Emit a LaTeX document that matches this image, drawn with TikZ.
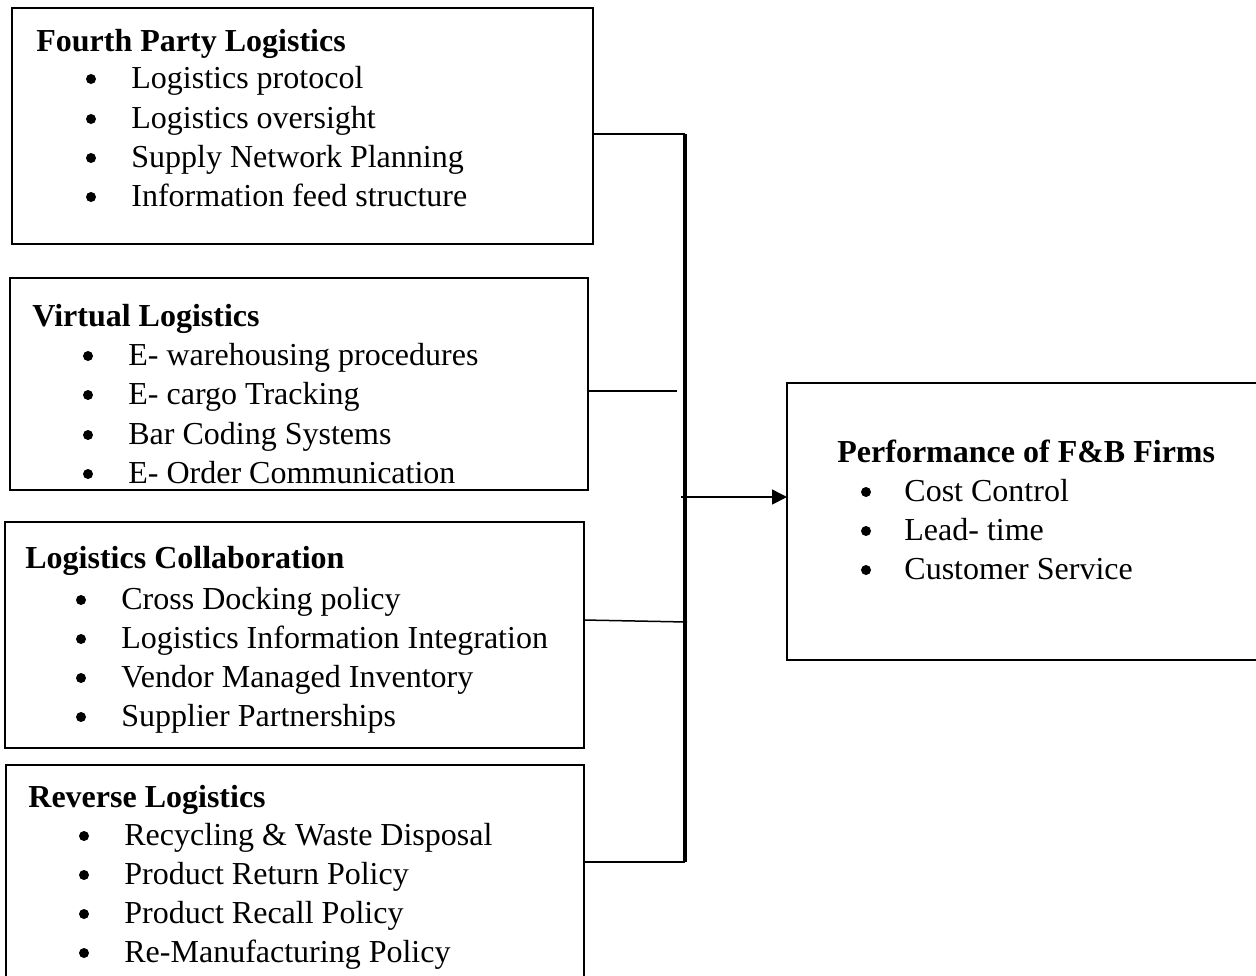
\documentclass[tikz,border=0pt]{standalone}
\usepackage{fontspec}
\setmainfont{Liberation Serif}
\usetikzlibrary{arrows.meta}
\begin{document}
\begin{tikzpicture}[x=0.5pt,y=-0.5pt,
  box/.style={draw, line width=1.3pt, anchor=north west, inner sep=0pt, outer sep=0pt},
  ttl/.style={anchor=base west, inner sep=0pt, font=\fontsize{16}{19}\selectfont\bfseries},
  itm/.style={anchor=base west, inner sep=0pt, font=\fontsize{16}{19}\selectfont},
  dot/.style={circle, fill, draw=none, inner sep=0pt, minimum size=5pt},
  link/.style={line width=0.75pt},
  spine/.style={line width=1.75pt},
]
\useasboundingbox (0,0) rectangle (1256,975);

% boxes
\node[box, minimum width=290.5pt, minimum height=118pt] (b1) at (12,8) {};
\node[box, minimum width=289pt, minimum height=106pt] (b2) at (10,278) {};
\node[box, minimum width=289.5pt, minimum height=113pt] (b3) at (5,522) {};
\node[box, minimum width=289pt, minimum height=120pt] (b4) at (6,765) {};
\node[box, minimum width=250pt, minimum height=138.5pt] (b5) at (787,383) {};

% box 1
\node[ttl] (t1) at (36,51) {Fourth Party Logistics};
\node[dot] (p11) at (91,79) {};  \node[itm] (i11) at (131,88) {Logistics protocol};
\node[dot] (p12) at (91,119) {}; \node[itm] (i12) at (131,128) {Logistics oversight};
\node[dot] (p13) at (91,158) {}; \node[itm] (i13) at (131,167) {Supply Network Planning};
\node[dot] (p14) at (91,197) {}; \node[itm] (i14) at (131,206) {Information feed structure};

% box 2
\node[ttl] (t2) at (32,326) {Virtual Logistics};
\node[dot] (p21) at (88,356) {}; \node[itm] (i21) at (128,365) {E- warehousing procedures};
\node[dot] (p22) at (88,395) {}; \node[itm] (i22) at (128,404) {E- cargo Tracking};
\node[dot] (p23) at (88,435) {}; \node[itm] (i23) at (128,444) {Bar Coding Systems};
\node[dot] (p24) at (88,474) {}; \node[itm] (i24) at (128,483) {E- Order Communication};

% box 3
\node[ttl] (t3) at (25,568) {Logistics Collaboration};
\node[dot] (p31) at (81,600) {}; \node[itm] (i31) at (121,609) {Cross Docking policy};
\node[dot] (p32) at (81,639) {}; \node[itm] (i32) at (121,648) {Logistics Information Integration};
\node[dot] (p33) at (81,678) {}; \node[itm] (i33) at (121,687) {Vendor Managed Inventory};
\node[dot] (p34) at (81,717) {}; \node[itm] (i34) at (121,726) {Supplier Partnerships};

% box 4
\node[ttl] (t4) at (28,807) {Reverse Logistics};
\node[dot] (p41) at (84,836) {}; \node[itm] (i41) at (124,845) {Recycling \& Waste Disposal};
\node[dot] (p42) at (84,875) {}; \node[itm] (i42) at (124,884) {Product Return Policy};
\node[dot] (p43) at (84,914) {}; \node[itm] (i43) at (124,923) {Product Recall Policy};
\node[dot] (p44) at (84,953) {}; \node[itm] (i44) at (124,962) {Re-Manufacturing Policy};

% box 5
\node[ttl] (t5) at (837,462) {Performance of F\&B Firms};
\node[dot] (p51) at (866,492) {}; \node[itm] (i51) at (904,501) {Cost Control};
\node[dot] (p52) at (866,531) {}; \node[itm] (i52) at (904,540) {Lead- time};
\node[dot] (p53) at (866,570) {}; \node[itm] (i53) at (904,579) {Customer Service};

% connectors
\coordinate (jt) at (685,134);
\coordinate (jb) at (685,862);
\coordinate (e2) at (677,391);
\coordinate (e3) at (687,622);
\coordinate (s) at (681,497);
\draw[link] (b1.east |- jt) -- (jt);
\draw[spine] (jt) -- (jb);
\draw[link] (b2.east |- e2) -- (e2);
\draw[link] (b3.east |- 0,620) -- (e3);
\draw[link] (b4.east |- jb) -- (jb);
\draw[link, -{Triangle[length=7.5pt, width=7.5pt]}] (s) -- (b5.west |- s);
\end{tikzpicture}
\end{document}
